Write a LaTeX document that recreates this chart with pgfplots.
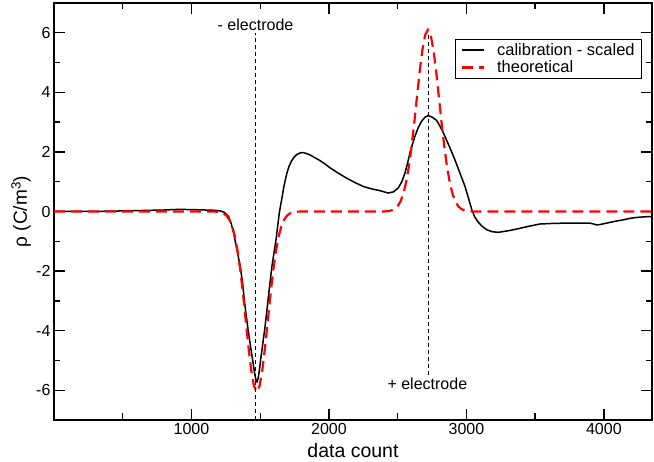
\documentclass[border=0pt]{standalone}
\usepackage{fontspec}
\setmainfont{Liberation Sans}
\usepackage{pgfplots}
\pgfplotsset{compat=1.18}
\begin{document}
\begin{tikzpicture}
\begin{axis}[
  name=ax,
  scale only axis, width=598pt, height=417pt,
  xmin=0, xmax=4350, ymin=-7, ymax=7,
  xtick={1000,2000,3000,4000}, xticklabels={1000,2000,3000,4000},
  minor xtick={500,1500,2500,3500},
  ytick={-6,-4,-2,0,2,4,6}, yticklabels={-6,-4,-2,0,2,4,6},
  minor ytick={-5,-3,-1,1,3,5},
  tick align=inside,
  major tick length=11pt, minor tick length=6.5pt,
  every tick/.style={black, line width=1.4pt},
  axis line style={line width=1.5pt},
  ticklabel style={font=\fontsize{16}{19}\selectfont},
  xlabel={data count},
  ylabel={ρ (C/m\textsuperscript{3})},
  xlabel style={font=\fontsize{19.5}{23}\selectfont, at={(axis description cs:0.5,-0.091)}, anchor=base},
  ylabel style={font=\fontsize{19}{23}\selectfont, at={(axis description cs:-0.0452,0.5)}, anchor=base, rotate=0},
  legend style={at={(axis description cs:0.9834,0.9137)}, anchor=north east, draw=black, line width=0.8pt,
    font=\fontsize{16.5}{19}\selectfont, inner xsep=6pt, inner ysep=3pt, row sep=2pt, column sep=11pt,
    nodes={inner sep=1pt}},
  legend cell align=left,
  legend image code/.code={\draw[#1] (0pt,0pt) -- (22pt,0pt);},
]
\addplot[black, line width=1.5pt] coordinates {
(0,0.0) (100,0.0) (200,0.0) (300,0.005) (400,0.01) (500,0.02) (600,0.03) (700,0.04) (800,0.05) (900,0.07) (1000,0.065) (1100,0.05) (1170,0.04) (1210,0.02) (1240,-0.03) (1270,-0.17) (1290,-0.42) (1307,-0.73) (1331,-1.29) (1355,-1.85) (1372,-2.41) (1387,-3.08) (1409,-3.87) (1430,-4.55) (1445,-4.98) (1460,-5.45) (1470,-5.68) (1477,-5.72) (1485,-5.6) (1495,-5.3) (1503,-4.98) (1520,-4.4) (1535,-3.87) (1549,-3.31) (1566,-2.6) (1585,-1.85) (1600,-1.4) (1615,-0.95) (1627,-0.5) (1639,-0.05) (1648,0.2) (1658,0.45) (1670,0.78) (1682,1.05) (1695,1.3) (1710,1.52) (1728,1.7) (1748,1.83) (1765,1.91) (1787,1.96) (1809,1.98) (1835,1.95) (1862,1.9) (1900,1.8) (1935,1.71) (1970,1.6) (2007,1.47) (2070,1.28) (2129,1.12) (2190,0.97) (2250,0.84) (2310,0.76) (2371,0.70) (2431,0.62) (2470,0.66) (2504,0.79) (2530,1.0) (2553,1.29) (2572,1.62) (2589,1.96) (2607,2.25) (2625,2.52) (2650,2.82) (2674,3.03) (2698,3.16) (2722,3.22) (2750,3.17) (2783,3.06) (2812,2.83) (2844,2.52) (2880,2.14) (2916,1.74) (2952,1.3) (2989,0.85) (3015,0.45) (3040,0.05) (3060,-0.18) (3085,-0.35) (3110,-0.48) (3150,-0.62) (3190,-0.68) (3231,-0.70) (3300,-0.65) (3365,-0.59) (3450,-0.50) (3535,-0.42) (3630,-0.40) (3729,-0.39) (3820,-0.39) (3898,-0.39) (3925,-0.42) (3947,-0.45) (3970,-0.44) (4020,-0.39) (4080,-0.33) (4140,-0.28) (4190,-0.23) (4238,-0.20) (4290,-0.18) (4335,-0.17) (4350,-0.165)
};
\addlegendentry{calibration - scaled}
\addplot[red, line width=2.2pt, dash pattern=on 11pt off 6pt] coordinates {
(0,0) (1155,0) (1195,-0.01) (1215,-0.03) (1235,-0.07) (1255,-0.14) (1275,-0.27) (1295,-0.48) (1315,-0.82) (1335,-1.31) (1355,-1.96) (1375,-2.77) (1395,-3.67) (1415,-4.57) (1435,-5.34) (1455,-5.86) (1475,-6.05) (1495,-5.86) (1515,-5.34) (1535,-4.57) (1555,-3.67) (1575,-2.77) (1595,-1.96) (1615,-1.31) (1635,-0.82) (1655,-0.48) (1675,-0.27) (1695,-0.14) (1715,-0.07) (1735,-0.03) (1755,-0.01) (1795,0) (2400,0) (2420,0.01) (2440,0.02) (2460,0.045) (2480,0.09) (2500,0.18) (2520,0.33) (2540,0.58) (2560,0.95) (2580,1.47) (2600,2.15) (2620,2.95) (2640,3.83) (2660,4.70) (2680,5.43) (2700,5.93) (2720,6.10) (2740,5.93) (2760,5.43) (2780,4.70) (2800,3.83) (2820,2.95) (2840,2.15) (2860,1.47) (2880,0.95) (2900,0.58) (2920,0.33) (2940,0.18) (2960,0.09) (2980,0.045) (3000,0.02) (3020,0.01) (3050,0) (4350,0)
};
\addlegendentry{theoretical}
\addplot[black, line width=0.8pt, dash pattern=on 4pt off 3pt, forget plot] coordinates {(1466,-7) (1466,6.0)};
\addplot[black, line width=0.8pt, dash pattern=on 4pt off 3pt, forget plot] coordinates {(2724,-5.49) (2724,6.0)};
\node[font=\fontsize{16}{19}\selectfont, anchor=base] at (axis cs:1466,6.08) {- electrode};
\node[font=\fontsize{16}{19}\selectfont, anchor=base] at (axis cs:2716,-5.99) {+ electrode};
\end{axis}
\pgfresetboundingbox
\path ([shift={(-54pt,-42pt)}]ax.south west) rectangle ([shift={(2pt,3pt)}]ax.north east);
\end{tikzpicture}
\end{document}
